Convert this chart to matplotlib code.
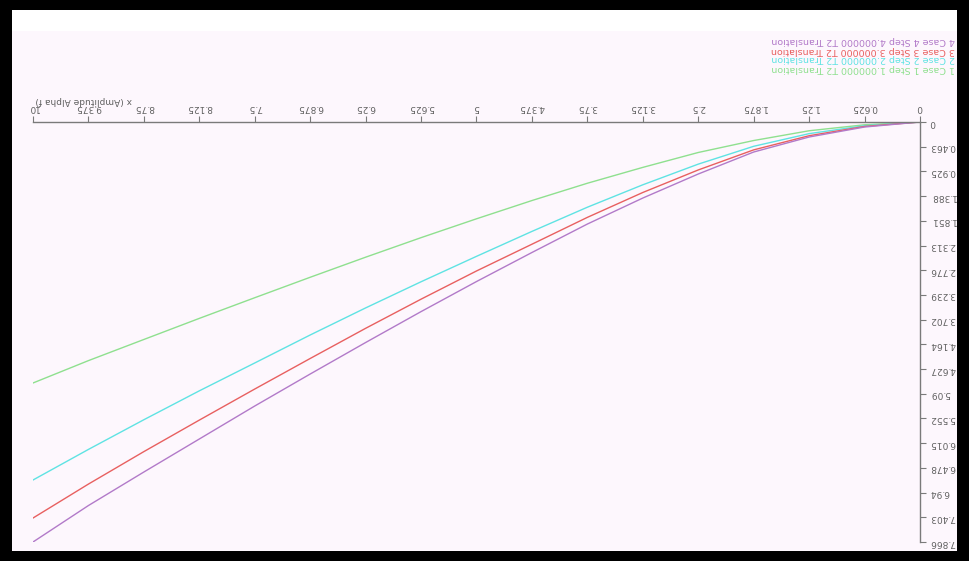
import matplotlib
matplotlib.use("Agg")
from matplotlib import pyplot as plt
from matplotlib.patches import Rectangle

# x positions (longitudinal), shared by all cases
x_values = [0, 0.625, 1.25, 1.875, 2.5, 3.125, 3.75, 4.375, 5,
            5.625, 6.25, 6.875, 7.5, 8.125, 8.75, 9.375, 10]
x_tick_labels = ["0", "0.625", "1.25", "1.875", "2.5", "3.125", "3.75", "4.375", "5",
                 "5.625", "6.25", "6.875", "7.5", "8.125", "8.75", "9.375", "10"]

y_ticks = [0, 0.463, 0.925, 1.388, 1.851, 2.313, 2.776, 3.239, 3.702,
           4.164, 4.627, 5.09, 5.552, 6.015, 6.478, 6.94, 7.403, 7.866]
y_tick_labels = ["0", "0.463", "0.925", "1.388", "1.851", "2.313", "2.776", "3.239", "3.702",
                 "4.164", "4.627", "5.09", "5.552", "6.015", "6.478", "6.94", "7.403", "7.866"]

case1 = [0, 0.052, 0.164, 0.347, 0.571, 0.850, 1.147, 1.471, 1.813,
         2.166, 2.532, 2.908, 3.291, 3.678, 4.073, 4.469, 4.888]
case2 = [0, 0.070, 0.218, 0.455, 0.789, 1.176, 1.596, 2.049, 2.516,
         2.992, 3.482, 3.989, 4.513, 5.035, 5.576, 6.132, 6.705]
case3 = [0, 0.083, 0.257, 0.522, 0.898, 1.320, 1.786, 2.289, 2.790,
         3.318, 3.864, 4.429, 5.001, 5.583, 6.173, 6.781, 7.417]
case4 = [0, 0.094, 0.281, 0.562, 0.974, 1.424, 1.911, 2.444, 2.988,
         3.551, 4.130, 4.720, 5.319, 5.937, 6.555, 7.183, 7.866]

series_names = ["1 Case 1 Step 1.000000 T2 Translation",
                "2 Case 2 Step 2.000000 T2 Translation",
                "3 Case 3 Step 3.000000 T2 Translation",
                "4 Case 4 Step 4.000000 T2 Translation"]
series_colors = ["#8fe08f", "#5fe3e3", "#e86060", "#b27ac9"]

W, H = 969, 561
fig = plt.figure(figsize=(W / 100, H / 100), dpi=100)
fig.patch.set_facecolor("black")

# inner canvas (whole picture is shown turned upside down)
fig.patches.append(Rectangle((12 / W, 10 / H), (957 - 12) / W, (551 - 10) / H,
                             transform=fig.transFigure, facecolor="#fdf7fd",
                             edgecolor="none", zorder=-2))
fig.patches.append(Rectangle((12 / W, (H - 31) / H), (957 - 12) / W, 21 / H,
                             transform=fig.transFigure, facecolor="white",
                             edgecolor="none", zorder=-1))

ax = fig.add_axes([33 / W, (H - 542) / H, (920 - 33) / W, 420 / H])
ax.set_facecolor("none")

for vals, color in zip([case1, case2, case3, case4], series_colors):
    ax.plot(x_values, vals, color=color, lw=1.0)

ax.set_xlim(10, 0)
ax.set_ylim(7.866, 0)

for side in ["left", "bottom"]:
    ax.spines[side].set_visible(False)
for side in ["top", "right"]:
    ax.spines[side].set_color("#7a7a7a")
    ax.spines[side].set_linewidth(1.0)

ax.xaxis.tick_top()
ax.yaxis.tick_right()
ax.set_xticks(x_values)
ax.set_xticklabels(x_tick_labels, rotation=180)
ax.set_yticks(y_ticks)
ax.set_yticklabels(y_tick_labels, rotation=180, va="center")
ax.tick_params(axis="both", direction="out", length=4, width=0.8,
               color="#7a7a7a", labelcolor="#606060", labelsize=6.5, pad=3)

fig.text(35 / W, (H - 100) / H, "x (Amplitude Alpha f)", rotation=180,
         ha="left", va="center", fontsize=6.5, color="#606060")

# legend text, drawn upside down like the rest
legend_rows = [68, 59, 50, 40]
for name, color, row in zip(series_names, series_colors, legend_rows):
    fig.text(955 / W, (H - row) / H, name, rotation=180, ha="right", va="center",
             fontsize=6.8, color=color)

fig.savefig("out.png", dpi=100, facecolor=fig.get_facecolor())
